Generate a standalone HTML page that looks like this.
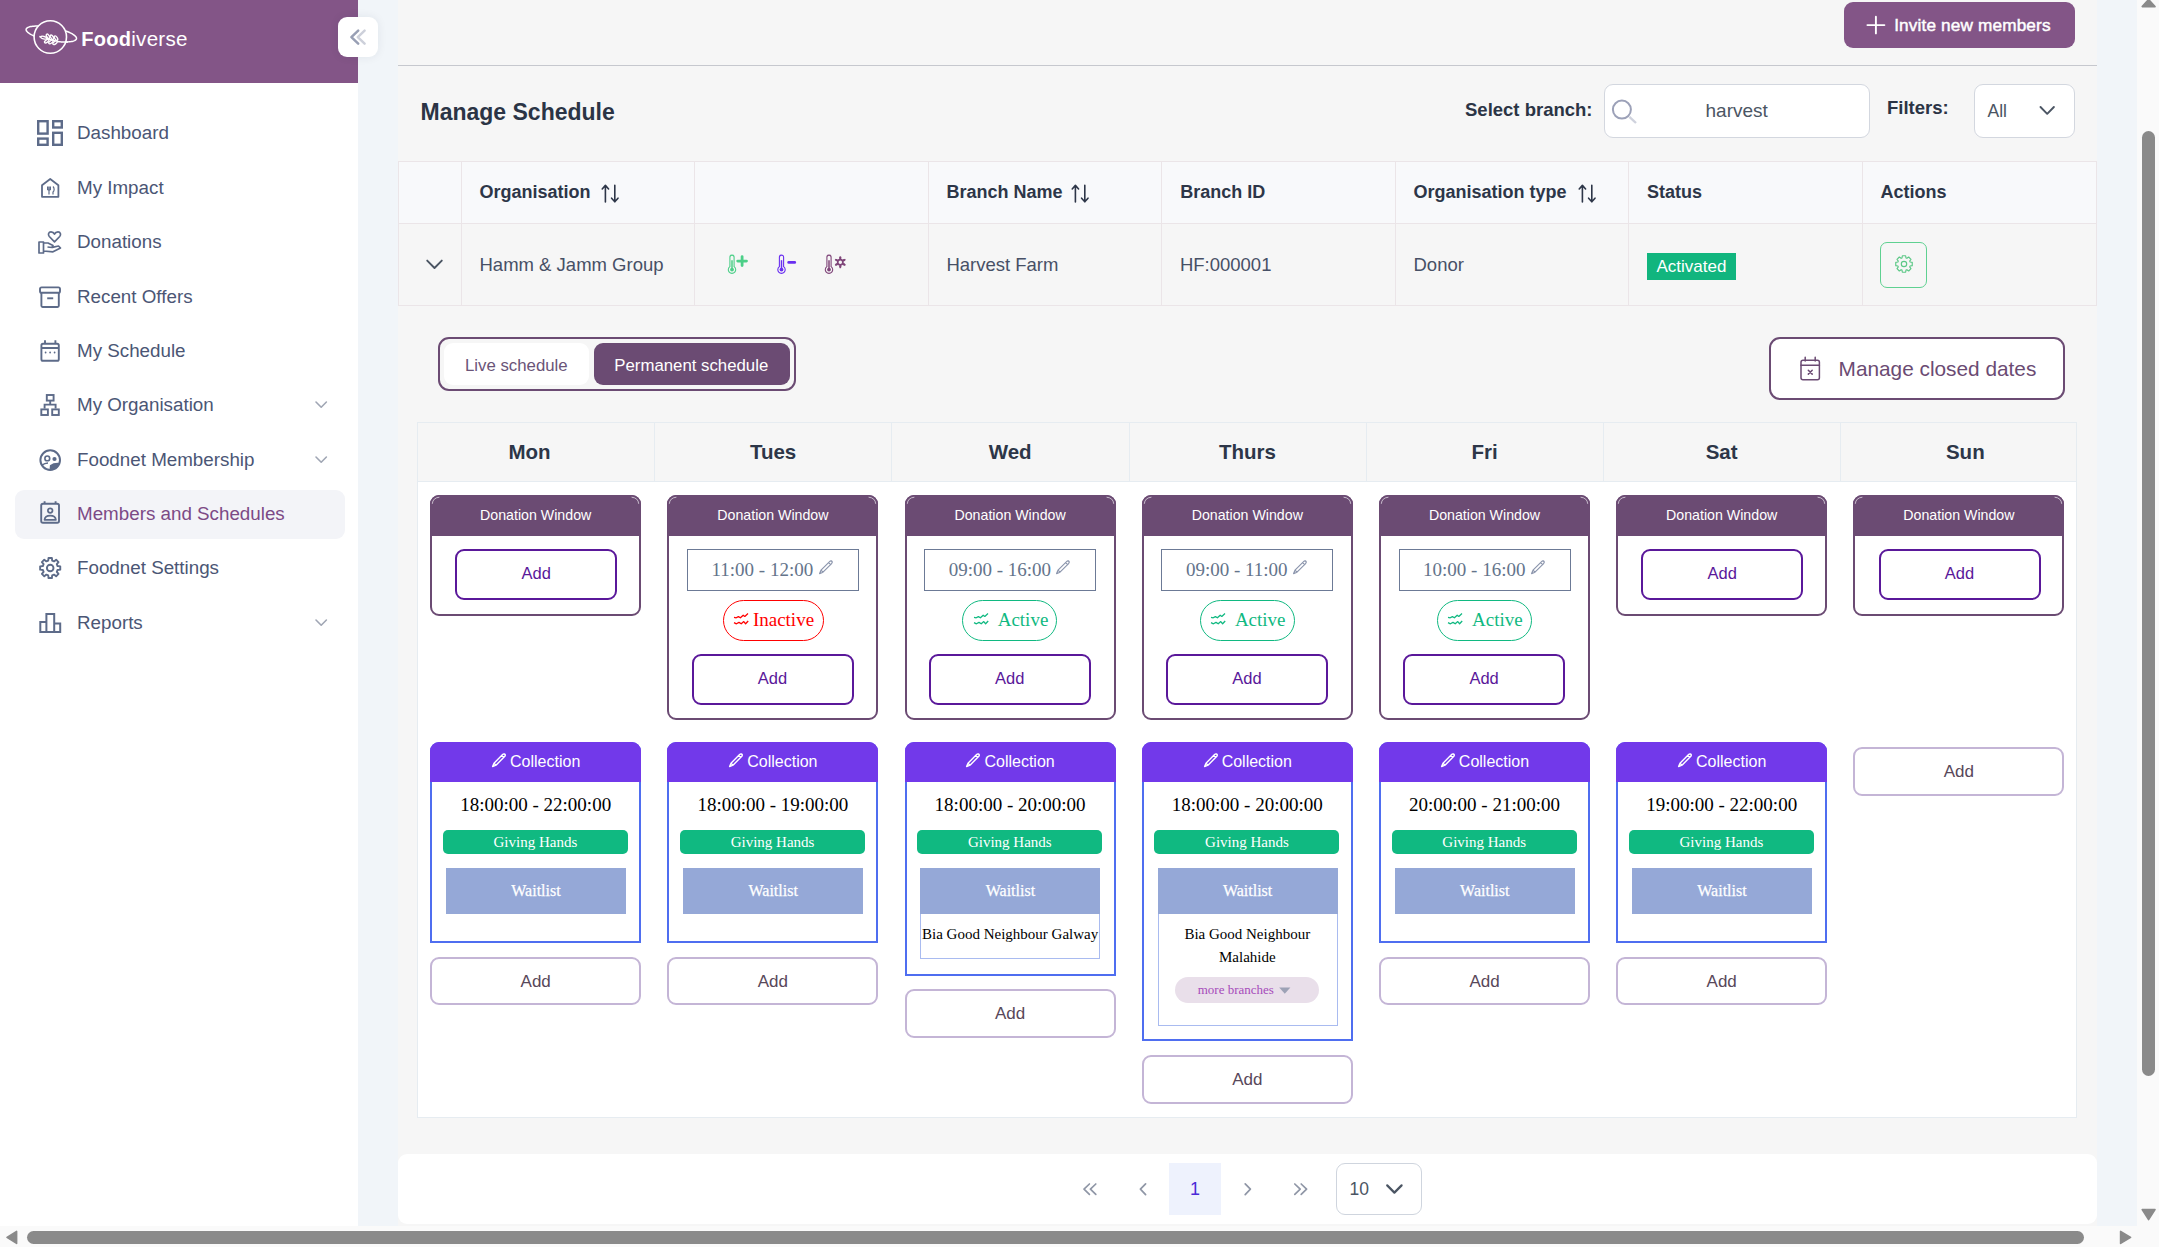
<!DOCTYPE html><html><head><meta charset="utf-8"><title>Members and Schedules</title><style>
*{box-sizing:border-box;margin:0;padding:0}
html,body{width:2159px;height:1247px;overflow:hidden;background:#f6f6f6;font-family:"Liberation Sans",sans-serif;position:relative}
.abs{position:absolute}
.nav{position:absolute;left:77px;font-size:18.8px;color:#4b5675;white-space:nowrap;line-height:22px}
.ic{position:absolute;overflow:visible}
.th{position:absolute;top:162px;height:61px;font-weight:bold;font-size:18px;color:#2d3648;line-height:61px;white-space:nowrap}
.td{position:absolute;top:224px;height:81px;font-size:18.5px;color:#475066;line-height:81px;white-space:nowrap}
.dh{position:absolute;top:423px;width:237px;height:58px;line-height:58px;text-align:center;font-weight:bold;font-size:20.5px;color:#2d3648}
.card{position:absolute;width:211px;border:2px solid #6b4b73;border-radius:9px;background:#fff}
.card .hd{position:absolute;left:-2px;top:-2px;width:211px;height:40.5px;background:#6b4b73;color:#fff;font-size:14.2px;text-align:center;line-height:40px;border-radius:9px 9px 0 0}
.addp{position:absolute;width:162px;height:51px;border:2.5px solid #5a189a;border-radius:9px;color:#5a189a;font-size:16.5px;text-align:center;line-height:45.5px;background:#fff}
.tbox{position:absolute;width:172px;height:42px;border:1px solid #6c7a96;background:#fff;font-family:"Liberation Serif",serif;font-size:19px;color:#64748b;line-height:40px;white-space:nowrap}
.pill{position:absolute;height:41px;border:1px solid;border-radius:21px;font-family:"Liberation Serif",serif;font-size:19px;line-height:37px;white-space:nowrap;background:#fff}
.coll{position:absolute;width:211px;background:#fff;border:2px solid #4f6ef0;border-radius:9px 9px 0 0}
.coll .hd{position:absolute;left:-2px;top:-2px;width:211px;height:40px;background:#7239ea;border-radius:9px 9px 0 0;color:#fff;font-size:16px;line-height:40px;text-align:center;white-space:nowrap}
.ctime{position:absolute;left:0;width:207px;top:49.6px;text-align:center;font-family:"Liberation Serif",serif;font-size:19px;line-height:22px;color:#000;white-space:nowrap}
.gh{position:absolute;left:10.7px;top:85.9px;width:185px;height:24px;background:#10b981;border-radius:5px;color:#fff;font-family:"Liberation Serif",serif;font-size:15px;line-height:24px;text-align:center}
.wl{position:absolute;left:13.8px;top:123.8px;width:180px;height:46px;background:#95a8d7;color:#fff;font-family:"Liberation Serif",serif;font-size:16px;-webkit-text-stroke:0.25px #fff;line-height:46px;text-align:center}
.wlist{position:absolute;left:13.8px;top:123.8px;width:180px;border:1px solid #a9bbf0;border-top:none;background:#fff}
.addg{position:absolute;width:211px;height:50px;border:2px solid #c4b5d6;border-radius:9px;background:#fff;color:#58485a;font-size:17px;text-align:center;line-height:46px}
</style></head><body>
<div class="abs" style="left:358px;top:0;width:40px;height:1226px;background:#f1f5f9"></div>
<div class="abs" style="left:2097px;top:0;width:40px;height:1226px;background:#f1f5f9"></div>
<div class="abs" style="left:0;top:0;width:358px;height:1226px;background:#fff"></div>
<div class="abs" style="left:0;top:0;width:358px;height:83px;background:#835587"></div>
<div class="abs" style="left:15px;top:490px;width:330px;height:49px;background:#f3f4f8;border-radius:9px"></div>
<svg class="abs" style="left:0;top:0" width="100" height="70" viewBox="0 0 100 70">
<path d="M76.47,38.67 L76.33,39.11 L76.06,39.52 L75.67,39.91 L75.16,40.27 L74.54,40.60 L73.81,40.90 L72.96,41.17 L72.01,41.40 L70.96,41.59 L69.81,41.75 L68.57,41.86 L67.25,41.94 L65.85,41.99 L64.38,41.99 L62.84,41.95 L61.25,41.88 L59.61,41.76 L57.93,41.61 L56.22,41.43 L54.49,41.20 L52.73,40.94 L50.98,40.65 L49.22,40.32 L47.47,39.97 L45.74,39.58 L44.04,39.17 L42.38,38.73 L40.76,38.27 L39.18,37.79 L37.67,37.29 L36.23,36.77 L34.86,36.24 L33.56,35.70 L32.36,35.15 L31.24,34.60 L30.23,34.04 L29.32,33.48 L28.51,32.93 L27.82,32.38 L27.24,31.84 L26.77,31.30 L26.43,30.79 L26.21,30.28 L26.11,29.80 L26.13,29.33 L26.27,28.89 L26.54,28.48 L26.93,28.09 L27.44,27.73 L28.06,27.40 L28.79,27.10 L29.64,26.83 L30.59,26.60 L31.64,26.41 L32.79,26.25 L34.03,26.14 L35.35,26.06 L36.75,26.01 L38.22,26.01 L39.76,26.05 L41.35,26.12 L42.99,26.24 L44.67,26.39 L46.38,26.57 L48.11,26.80 L49.87,27.06 L51.62,27.35 L53.38,27.68 L55.13,28.03 L56.86,28.42 L58.56,28.83 L60.22,29.27 L61.84,29.73 L63.42,30.21 L64.93,30.71 L66.37,31.23 L67.74,31.76 L69.04,32.30 L70.24,32.85 L71.36,33.40 L72.37,33.96 L73.28,34.52 L74.09,35.07 L74.78,35.62 L75.36,36.16 L75.83,36.70 L76.17,37.21 L76.39,37.72 L76.49,38.20 L76.47,38.67Z" fill="none" stroke="#fff" stroke-width="1.5"/>
<circle cx="50.3" cy="37" r="16.4" fill="#835587"/>
<circle cx="50.3" cy="37" r="16.2" fill="none" stroke="#fff" stroke-width="1.6"/>
<path d="M67.92,41.91 L67.25,41.94 L66.56,41.97 L65.85,41.99 L65.12,41.99 L64.38,41.99 L63.62,41.98 L62.84,41.95 L62.06,41.92 L61.25,41.88 L60.44,41.83 L59.61,41.76 L58.78,41.69 L57.93,41.61 L39.3,36.5" fill="none" stroke="#fff" stroke-width="1.5"/>
<ellipse cx="48.0" cy="36.3" rx="2.5" ry="1.25" transform="rotate(56 48.0 36.3)" fill="#835587" stroke="#fff" stroke-width="1.35"/><ellipse cx="52.0" cy="37.2" rx="2.5" ry="1.25" transform="rotate(56 52.0 37.2)" fill="#835587" stroke="#fff" stroke-width="1.35"/><ellipse cx="56.0" cy="38.1" rx="2.5" ry="1.25" transform="rotate(56 56.0 38.1)" fill="#835587" stroke="#fff" stroke-width="1.35"/><ellipse cx="46.7" cy="41.1" rx="2.5" ry="1.25" transform="rotate(-35 46.7 41.1)" fill="#835587" stroke="#fff" stroke-width="1.35"/><ellipse cx="50.9" cy="42.0" rx="2.5" ry="1.25" transform="rotate(-35 50.9 42.0)" fill="#835587" stroke="#fff" stroke-width="1.35"/><ellipse cx="55.0" cy="42.8" rx="2.5" ry="1.25" transform="rotate(-35 55.0 42.8)" fill="#835587" stroke="#fff" stroke-width="1.35"/><ellipse cx="43.7" cy="37.7" rx="3.0" ry="1.25" transform="rotate(14 43.7 37.7)" fill="#835587" stroke="#fff" stroke-width="1.35"/>
</svg>
<div class="abs" style="left:81.2px;top:29px;line-height:20px;font-size:20px;color:#fff;white-space:nowrap"><b style="letter-spacing:0.3px">Food</b><span style="font-size:20.6px;letter-spacing:0.25px">iverse</span></div>
<div class="abs" style="left:338px;top:17px;width:40px;height:40px;background:#fff;border-radius:9px;box-shadow:0 0 10px rgba(30,41,59,0.08)"></div>
<svg class="abs" style="left:330px;top:20px" width="50" height="40" viewBox="330 20 50 40"><path d="M358.2,30.6 L351.4,37.1 L358.2,43.6" fill="none" stroke="#989fb4" stroke-width="2.5" stroke-linecap="round" stroke-linejoin="round"/><path d="M364.6,30.6 L357.8,37.1 L364.6,43.6" fill="none" stroke="#cdd0da" stroke-width="2.5" stroke-linecap="round" stroke-linejoin="round"/></svg>
<div class="nav" style="top:121.5px;color:#4b5675">Dashboard</div>
<div class="nav" style="top:176.8px;color:#4b5675">My Impact</div>
<div class="nav" style="top:230.5px;color:#4b5675">Donations</div>
<div class="nav" style="top:285.8px;color:#4b5675">Recent Offers</div>
<div class="nav" style="top:339.5px;color:#4b5675">My Schedule</div>
<div class="nav" style="top:393.8px;color:#4b5675">My Organisation</div>
<svg class="abs" style="left:310px;top:397.3px" width="22" height="16" viewBox="0 0 22 16"><path d="M6,5 L11.2,10.2 L16.4,5" fill="none" stroke="#a0a6b4" stroke-width="1.6" stroke-linecap="round" stroke-linejoin="round"/></svg>
<div class="nav" style="top:448.5px;color:#4b5675">Foodnet Membership</div>
<svg class="abs" style="left:310px;top:452.0px" width="22" height="16" viewBox="0 0 22 16"><path d="M6,5 L11.2,10.2 L16.4,5" fill="none" stroke="#a0a6b4" stroke-width="1.6" stroke-linecap="round" stroke-linejoin="round"/></svg>
<div class="nav" style="top:502.5px;color:#7c4a86">Members and Schedules</div>
<div class="nav" style="top:556.5px;color:#4b5675">Foodnet Settings</div>
<div class="nav" style="top:611.5px;color:#4b5675">Reports</div>
<svg class="abs" style="left:310px;top:615.0px" width="22" height="16" viewBox="0 0 22 16"><path d="M6,5 L11.2,10.2 L16.4,5" fill="none" stroke="#a0a6b4" stroke-width="1.6" stroke-linecap="round" stroke-linejoin="round"/></svg>
<svg class="abs" style="left:0;top:0" width="358" height="660" viewBox="0 0 358 660" fill="none" stroke="#5d6b89" stroke-width="2.4">
<rect x="38.2" y="121.2" width="9.4" height="12.4"/><rect x="53.2" y="121.2" width="8.6" height="6.3"/>
<rect x="38.2" y="138.6" width="9.4" height="6.2"/><rect x="53.2" y="132.8" width="8.6" height="12"/>
<path d="M42,196.8 L42,185.2 L50.2,179 L58.4,185.2 L58.4,196.8 Z" stroke-width="1.8" stroke-linejoin="round"/>
<path d="M47.6,186.5 V190 M49,186.5 V194.5 M50.4,186.5 V190 M47.6,190 H50.4 M53,186.5 C54.5,188 54.5,191 53,192 V194.5" stroke-width="1.2"/>
<path d="M39,242 H43.5 V253 H39 Z M43.5,243 H48 L53,245.5 L52,247.5 L47.5,247 M52.5,247.3 L58.5,246 L60.5,248 L53,251.8 L43.5,251" stroke-width="1.7" stroke-linejoin="round"/>
<path d="M54.5,241.8 L49.3,236.5 C47.6,234.6 48.6,231.8 51,231.8 C52.6,231.8 54,233 54.5,234 C55,233 56.4,231.8 58,231.8 C60.4,231.8 61.4,234.6 59.7,236.5 Z" stroke-width="1.7" stroke-linejoin="round"/>
<rect x="40" y="287.4" width="20" height="5.4" rx="1.6" stroke-width="1.9"/><path d="M41.4,293 V305.8 Q41.4,307 42.6,307 H57.6 Q58.8,307 58.8,305.8 V293" stroke-width="1.9"/><path d="M47.2,298.3 H53.2" stroke-width="1.9"/>
<rect x="41.4" y="343.8" width="17.4" height="17" rx="1.6" stroke-width="1.9"/><path d="M41.4,348 H58.8 M45,340.2 V344 M55.4,340.2 V344" stroke-width="1.9"/>
<circle cx="45.6" cy="352.5" r="0.9" fill="#5d6b89" stroke="none"/><circle cx="50.1" cy="352.5" r="0.9" fill="#5d6b89" stroke="none"/><circle cx="54.6" cy="352.5" r="0.9" fill="#5d6b89" stroke="none"/>
<rect x="46.8" y="395" width="6.8" height="5.6" stroke-width="1.9"/><path d="M50.2,400.6 V404.6 M44.6,408.5 V404.6 H55.6 V408.5" stroke-width="1.9"/>
<rect x="41.3" y="409.4" width="6.6" height="5.6" stroke-width="1.9"/><rect x="52.2" y="409.4" width="6.6" height="5.6" stroke-width="1.9"/>
<circle cx="50.2" cy="460.1" r="9.8" stroke-width="2"/><circle cx="47.3" cy="458.4" r="2.4" stroke-width="1.6"/><circle cx="54.5" cy="459" r="2.1" fill="#5d6b89" stroke="none"/>
<path d="M49.6,469.8 L49.9,465.2 Q53.5,462.4 59.9,462.9 A9.8,9.8 0 0 1 49.6,469.8 Z" fill="#5d6b89" stroke="none"/><path d="M42.2,465 Q44.5,463.2 48,463" stroke-width="1.5"/>
<rect x="41.2" y="503.8" width="17.8" height="19" rx="1.8" stroke-width="1.9"/><path d="M44.6,501.2 V504 M55.6,501.2 V504" stroke-width="1.9"/>
<circle cx="50.2" cy="510.6" r="2.3" stroke-width="1.7"/><path d="M44.5,519.8 Q45,515.6 50.2,515.6 Q55.4,515.6 55.9,519.8 Z" stroke-width="1.7" stroke-linejoin="round"/>
<path d="M40.3,622 H46.4 V632 H40.3 Z M46.4,614 H54.2 V632 H46.4 Z M54.2,623.4 H60.2 V632 H54.2 Z" stroke-width="2" stroke-linejoin="miter"/>
</svg>
<svg class="abs" style="left:0;top:0" width="358" height="660" viewBox="0 0 358 660"><path d="M57.54,566.02 L60.26,566.33 L60.26,569.67 L57.54,569.98 L56.79,571.79 L58.50,573.93 L56.13,576.30 L53.99,574.59 L52.18,575.34 L51.87,578.06 L48.53,578.06 L48.22,575.34 L46.41,574.59 L44.27,576.30 L41.90,573.93 L43.61,571.79 L42.86,569.98 L40.14,569.67 L40.14,566.33 L42.86,566.02 L43.61,564.21 L41.90,562.07 L44.27,559.70 L46.41,561.41 L48.22,560.66 L48.53,557.94 L51.87,557.94 L52.18,560.66 L53.99,561.41 L56.13,559.70 L58.50,562.07 L56.79,564.21Z" fill="none" stroke="#5d6b89" stroke-width="1.9" stroke-linejoin="round"/><circle cx="50.2" cy="568" r="3.3" fill="none" stroke="#5d6b89" stroke-width="1.9"/></svg>
<div class="abs" style="left:1844px;top:2px;width:231px;height:46px;background:#835587;border-radius:9px"></div>
<svg class="abs" style="left:1860px;top:10px" width="32" height="32" viewBox="1860 10 32 32"><path d="M1875.9,16.8 V33.4 M1867.4,25.1 H1884.4" stroke="#fff" stroke-width="1.9" stroke-linecap="round"/></svg>
<div class="abs" style="left:1894.2px;top:14.1px;font-size:17.2px;line-height:22px;letter-spacing:0.15px;color:#fff;-webkit-text-stroke:0.45px #fff;white-space:nowrap">Invite new members</div>
<div class="abs" style="left:398px;top:65px;width:1699px;height:1px;background:#c6c8ce"></div>
<div class="abs" style="left:420.5px;top:97.6px;font-size:23px;line-height:28px;font-weight:bold;color:#2b3445;white-space:nowrap">Manage Schedule</div>
<div class="abs" style="left:1465px;top:99.2px;font-size:18.5px;line-height:22px;font-weight:bold;color:#2b3445;white-space:nowrap">Select branch:</div>
<div class="abs" style="left:1604px;top:84px;width:266px;height:54px;background:#fff;border:1px solid #d3d7df;border-radius:9px"></div>
<svg class="abs" style="left:1605px;top:90px" width="40" height="40" viewBox="1605 90 40 40"><circle cx="1621.9" cy="109.6" r="9" fill="none" stroke="#9ca1b8" stroke-width="2"/><path d="M1629.4,116.8 L1636,123" stroke="#cfd2dd" stroke-width="2.4"/></svg>
<div class="abs" style="left:1705.5px;top:99.7px;font-size:19px;line-height:22px;color:#4b5563;white-space:nowrap">harvest</div>
<div class="abs" style="left:1887px;top:96.9px;font-size:18.5px;line-height:22px;font-weight:bold;color:#2b3445;white-space:nowrap">Filters:</div>
<div class="abs" style="left:1974px;top:84px;width:101px;height:54px;background:#fff;border:1px solid #d3d7df;border-radius:9px"></div>
<div class="abs" style="left:1987.5px;top:100.2px;font-size:17.5px;line-height:22px;color:#4b5563;white-space:nowrap">All</div>
<svg class="abs" style="left:2035px;top:100px" width="25" height="22" viewBox="2035 100 25 22"><path d="M2040.5,107 L2047.2,113.8 L2053.9,107" fill="none" stroke="#4b5563" stroke-width="1.9" stroke-linecap="round" stroke-linejoin="round"/></svg>
<div class="abs" style="left:398px;top:161px;width:1699px;height:145px;background:#f6f6f6;border:1px solid #ebe5e8"></div>
<div class="abs" style="left:399px;top:162px;width:1697px;height:61px;background:#f8f9fb"></div>
<div class="abs" style="left:399px;top:223px;width:1697px;height:1px;background:#ebe5e8"></div>
<div class="abs" style="left:461px;top:162px;width:1px;height:143px;background:#ebe5e8"></div>
<div class="abs" style="left:694px;top:162px;width:1px;height:143px;background:#ebe5e8"></div>
<div class="abs" style="left:928px;top:162px;width:1px;height:143px;background:#ebe5e8"></div>
<div class="abs" style="left:1161px;top:162px;width:1px;height:143px;background:#ebe5e8"></div>
<div class="abs" style="left:1395px;top:162px;width:1px;height:143px;background:#ebe5e8"></div>
<div class="abs" style="left:1628px;top:162px;width:1px;height:143px;background:#ebe5e8"></div>
<div class="abs" style="left:1862px;top:162px;width:1px;height:143px;background:#ebe5e8"></div>
<div class="th" style="left:479.6px">Organisation</div>
<svg class="abs" style="left:597.6px;top:180px" width="26" height="26" viewBox="597.6 180 26 26"><path d="M605.0,202 V185.6 M601.8000000000001,189 L605.0,185.4 L608.2,189" fill="none" stroke="#2d3648" stroke-width="1.6" stroke-linecap="round" stroke-linejoin="round"/><path d="M614.4,185.2 V201.6 M611.2,198.2 L614.4,201.8 L617.6,198.2" fill="none" stroke="#2d3648" stroke-width="1.6" stroke-linecap="round" stroke-linejoin="round"/></svg>
<div class="th" style="left:946.4px">Branch Name</div>
<svg class="abs" style="left:1068px;top:180px" width="26" height="26" viewBox="1068 180 26 26"><path d="M1075.4,202 V185.6 M1072.2,189 L1075.4,185.4 L1078.6,189" fill="none" stroke="#2d3648" stroke-width="1.6" stroke-linecap="round" stroke-linejoin="round"/><path d="M1084.8,185.2 V201.6 M1081.6,198.2 L1084.8,201.8 L1088,198.2" fill="none" stroke="#2d3648" stroke-width="1.6" stroke-linecap="round" stroke-linejoin="round"/></svg>
<div class="th" style="left:1180.2px">Branch ID</div>
<div class="th" style="left:1413.5px">Organisation type</div>
<svg class="abs" style="left:1574.5px;top:180px" width="26" height="26" viewBox="1574.5 180 26 26"><path d="M1581.9,202 V185.6 M1578.7,189 L1581.9,185.4 L1585.1,189" fill="none" stroke="#2d3648" stroke-width="1.6" stroke-linecap="round" stroke-linejoin="round"/><path d="M1591.3,185.2 V201.6 M1588.1,198.2 L1591.3,201.8 L1594.5,198.2" fill="none" stroke="#2d3648" stroke-width="1.6" stroke-linecap="round" stroke-linejoin="round"/></svg>
<div class="th" style="left:1646.9px">Status</div>
<div class="th" style="left:1880.4px">Actions</div>
<div class="td" style="left:479.5px">Hamm &amp; Jamm Group</div>
<div class="td" style="left:946.4px">Harvest Farm</div>
<div class="td" style="left:1179.9px">HF:000001</div>
<div class="td" style="left:1413.5px">Donor</div>
<svg class="abs" style="left:420px;top:254px" width="30" height="22" viewBox="420 254 30 22"><path d="M427.2,260.6 L434.5,268 L441.8,260.6" fill="none" stroke="#4b5563" stroke-width="1.9" stroke-linecap="round" stroke-linejoin="round"/></svg>
<svg class="abs" style="left:720px;top:248px" width="135" height="32" viewBox="720 248 135 32"><path d="M729.9,266.59999999999997 V257.2 a2.1,2.1 0 0 1 4.2,0 V266.59999999999997 a3.7,3.7 0 1 1 -4.2,0 Z" fill="none" stroke="#4ccf88" stroke-width="1.1"/><path d="M732.0,260.2 V268.7" stroke="#4ccf88" stroke-width="1.5"/><circle cx="732.0" cy="269.59999999999997" r="1.9" fill="#4ccf88"/><path d="M742.1,256.6 V265.6 M737.7,261.1 H746.5" stroke="#4ccf88" stroke-width="2.8" stroke-linecap="round"/><path d="M779.4,266.59999999999997 V257.2 a2.1,2.1 0 0 1 4.2,0 V266.59999999999997 a3.7,3.7 0 1 1 -4.2,0 Z" fill="none" stroke="#6a2ff0" stroke-width="1.1"/><path d="M781.5,260.2 V268.7" stroke="#6a2ff0" stroke-width="1.5"/><circle cx="781.5" cy="269.59999999999997" r="1.9" fill="#6a2ff0"/><path d="M788.6,262.4 H794.8" stroke="#6a2ff0" stroke-width="2.6" stroke-linecap="round"/><path d="M826.9,266.59999999999997 V257.2 a2.1,2.1 0 0 1 4.2,0 V266.59999999999997 a3.7,3.7 0 1 1 -4.2,0 Z" fill="none" stroke="#7f4579" stroke-width="1.1"/><path d="M829.0,260.2 V268.7" stroke="#7f4579" stroke-width="1.5"/><circle cx="829.0" cy="269.59999999999997" r="1.9" fill="#7f4579"/><path d="M840.30,256.40 L840.30,268.20" stroke="#7f4579" stroke-width="1.6"/><path d="M845.41,259.35 L835.19,265.25" stroke="#7f4579" stroke-width="1.6"/><path d="M845.41,265.25 L835.19,259.35" stroke="#7f4579" stroke-width="1.6"/><circle cx="840.3" cy="262.3" r="2.6" fill="#f6f6f6" stroke="#7f4579" stroke-width="1.7"/><circle cx="840.30" cy="266.60" r="1.15" fill="#7f4579"/><circle cx="836.58" cy="264.45" r="1.15" fill="#7f4579"/><circle cx="836.58" cy="260.15" r="1.15" fill="#7f4579"/><circle cx="840.30" cy="258.00" r="1.15" fill="#7f4579"/><circle cx="844.02" cy="260.15" r="1.15" fill="#7f4579"/><circle cx="844.02" cy="264.45" r="1.15" fill="#7f4579"/></svg>
<div class="abs" style="left:1647px;top:253px;width:89px;height:27px;background:#11b57e;color:#fff;font-size:17px;line-height:27px;text-align:center">Activated</div>
<div class="abs" style="left:1880px;top:242px;width:47px;height:46px;border:1.3px solid #5fd191;border-radius:7px"></div>
<svg class="abs" style="left:1890px;top:250px" width="28" height="28" viewBox="1890 250 28 28"><path d="M1910.09,262.02 L1912.24,262.36 L1912.24,265.64 L1910.09,265.98 L1909.70,266.91 L1910.98,268.67 L1908.67,270.98 L1906.91,269.70 L1905.98,270.09 L1905.64,272.24 L1902.36,272.24 L1902.02,270.09 L1901.09,269.70 L1899.33,270.98 L1897.02,268.67 L1898.30,266.91 L1897.91,265.98 L1895.76,265.64 L1895.76,262.36 L1897.91,262.02 L1898.30,261.09 L1897.02,259.33 L1899.33,257.02 L1901.09,258.30 L1902.02,257.91 L1902.36,255.76 L1905.64,255.76 L1905.98,257.91 L1906.91,258.30 L1908.67,257.02 L1910.98,259.33 L1909.70,261.09Z" fill="none" stroke="#5cc886" stroke-width="1.15" stroke-linejoin="round"/><circle cx="1904" cy="264" r="2.7" fill="none" stroke="#5cc886" stroke-width="1.15"/></svg>
<div class="abs" style="left:438px;top:337px;width:358px;height:54px;border:2px solid #6b4b73;border-radius:11px;background:#f6f6f6"></div>
<div class="abs" style="left:444px;top:343px;width:145px;height:42px;background:#fff;border-radius:9px"></div>
<div class="abs" style="left:594px;top:343px;width:196px;height:42px;background:#6b4b73;border-radius:9px"></div>
<div class="abs" style="left:465px;top:356.1px;font-size:16.8px;line-height:20px;color:#6a5478;white-space:nowrap">Live schedule</div>
<div class="abs" style="left:614.3px;top:356.1px;font-size:16.8px;line-height:20px;color:#fff;white-space:nowrap">Permanent schedule</div>
<div class="abs" style="left:1769px;top:337px;width:296px;height:63px;border:2px solid #6b4b73;border-radius:11px;background:#fff"></div>
<svg class="abs" style="left:1795px;top:352px" width="30" height="32" viewBox="1795 352 30 32"><rect x="1801" y="360.3" width="18.4" height="19.4" rx="2" fill="none" stroke="#6b4b73" stroke-width="1.5"/><path d="M1801,365.2 H1819.4 M1805.2,357.2 V361 M1815.2,357.2 V361 M1808.3,370.2 L1812.2,374.1 M1812.2,370.2 L1808.3,374.1" stroke="#6b4b73" stroke-width="1.5" stroke-linecap="round"/></svg>
<div class="abs" style="left:1838.6px;top:356.5px;font-size:20.8px;line-height:24px;color:#6b4b73;white-space:nowrap">Manage closed dates</div>
<div class="abs" style="left:417px;top:422px;width:1660px;height:696px;background:#fff;border:1px solid #e6ecf1;border-top:none"></div>
<div class="abs" style="left:417px;top:422px;width:1660px;height:60px;background:#f6f6f6;border:1px solid #e6ecf1"></div>
<div class="abs" style="left:654px;top:423px;width:1px;height:58px;background:#e6ecf1"></div>
<div class="abs" style="left:891px;top:423px;width:1px;height:58px;background:#e6ecf1"></div>
<div class="abs" style="left:1129px;top:423px;width:1px;height:58px;background:#e6ecf1"></div>
<div class="abs" style="left:1366px;top:423px;width:1px;height:58px;background:#e6ecf1"></div>
<div class="abs" style="left:1603px;top:423px;width:1px;height:58px;background:#e6ecf1"></div>
<div class="abs" style="left:1840px;top:423px;width:1px;height:58px;background:#e6ecf1"></div>
<div class="dh" style="left:411.0px">Mon</div>
<div class="dh" style="left:654.6px">Tues</div>
<div class="dh" style="left:891.7px">Wed</div>
<div class="dh" style="left:1129.0px">Thurs</div>
<div class="dh" style="left:1366.1px">Fri</div>
<div class="dh" style="left:1603.1px">Sat</div>
<div class="dh" style="left:1846.8px">Sun</div>
<div class="card" style="left:430.2px;top:495.2px;height:120.5px"><div class="hd">Donation Window</div></div>
<svg class="abs" style="left:430.2px;top:495.2px;overflow:visible" width="211" height="20"><path d="M2.3,8.8 Q2.8,2.8 9.4,2.2" fill="none" stroke="#d2c8d6" stroke-width="0.9"/><path d="M208.7,8.8 Q208.2,2.8 201.6,2.2" fill="none" stroke="#d2c8d6" stroke-width="0.9"/></svg>
<div class="addp" style="left:455.3px;top:549.4px">Add</div>
<div class="coll" style="left:430.2px;top:742.1px;height:200.7px"><div class="hd"><span style="position:relative;left:9.5px">Collection</span></div><div class="ctime">18:00:00 - 22:00:00</div><div class="gh">Giving Hands</div>
<div class="wl">Waitlist</div></div>
<svg class="abs" style="left:490.0px;top:751.2px;overflow:visible" width="18.0" height="18.0" viewBox="-2 -2 18 18"><path d="M10.6,1.6 Q11.9,0.3 13.2,1.6 L12.6,1 Q13.9,2.3 12.6,3.6 L4,12.2 L0.6,13.6 L2,10.2 Z M9.6,2.6 L11.6,4.6 M2,10.2 L4,12.2" fill="none" stroke="#fff" stroke-width="1.4" stroke-linejoin="round" transform="scale(1.0)"/></svg>
<div class="addg" style="left:430.2px;top:956.6px;height:48.8px">Add</div>
<div class="card" style="left:667.4px;top:495.2px;height:225px"><div class="hd">Donation Window</div></div>
<svg class="abs" style="left:667.4px;top:495.2px;overflow:visible" width="211" height="20"><path d="M2.3,8.8 Q2.8,2.8 9.4,2.2" fill="none" stroke="#d2c8d6" stroke-width="0.9"/><path d="M208.7,8.8 Q208.2,2.8 201.6,2.2" fill="none" stroke="#d2c8d6" stroke-width="0.9"/></svg>
<div class="tbox" style="left:686.9px;top:549.2px"><span style="position:absolute;left:23.6px;top:0">11:00 - 12:00</span></div>
<svg class="abs" style="left:816.9px;top:558.2px;overflow:visible" width="18.0" height="18.0" viewBox="-2 -2 18 18"><path d="M10.6,1.6 Q11.9,0.3 13.2,1.6 L12.6,1 Q13.9,2.3 12.6,3.6 L4,12.2 L0.6,13.6 L2,10.2 Z M9.6,2.6 L11.6,4.6 M2,10.2 L4,12.2" fill="none" stroke="#8c96ad" stroke-width="1.2" stroke-linejoin="round" transform="scale(1.0)"/></svg>
<div class="pill" style="left:723.2px;top:599.9px;width:100.6px;border-color:#ff0000;color:#ff0000"><span style="position:absolute;left:28.7px;top:0">Inactive</span></div>
<div class="abs" style="left:733.6px;top:613.3px"><svg class="abs" style="left:0;top:0;overflow:visible" width="1" height="1"><path d="M0,4.4 L2.2,4.8 L4.4,3.6 L6.4,4.8 L9.2,2.2 L10.8,3.4 L14,0.6 M0,9.6 L2.4,10.8 L5,9.4 L7.2,10.8 L9.8,8.6 L11.6,10.8 L14.2,8" fill="none" stroke="#ff0000" stroke-width="1.3" stroke-linejoin="round"/></svg></div>
<div class="addp" style="left:691.5px;top:654.4px">Add</div>
<div class="coll" style="left:667.4px;top:742.1px;height:200.7px"><div class="hd"><span style="position:relative;left:9.5px">Collection</span></div><div class="ctime">18:00:00 - 19:00:00</div><div class="gh">Giving Hands</div>
<div class="wl">Waitlist</div></div>
<svg class="abs" style="left:727.1999999999999px;top:751.2px;overflow:visible" width="18.0" height="18.0" viewBox="-2 -2 18 18"><path d="M10.6,1.6 Q11.9,0.3 13.2,1.6 L12.6,1 Q13.9,2.3 12.6,3.6 L4,12.2 L0.6,13.6 L2,10.2 Z M9.6,2.6 L11.6,4.6 M2,10.2 L4,12.2" fill="none" stroke="#fff" stroke-width="1.4" stroke-linejoin="round" transform="scale(1.0)"/></svg>
<div class="addg" style="left:667.4px;top:956.6px;height:48.8px">Add</div>
<div class="card" style="left:904.6px;top:495.2px;height:225px"><div class="hd">Donation Window</div></div>
<svg class="abs" style="left:904.6px;top:495.2px;overflow:visible" width="211" height="20"><path d="M2.3,8.8 Q2.8,2.8 9.4,2.2" fill="none" stroke="#d2c8d6" stroke-width="0.9"/><path d="M208.7,8.8 Q208.2,2.8 201.6,2.2" fill="none" stroke="#d2c8d6" stroke-width="0.9"/></svg>
<div class="tbox" style="left:924.1px;top:549.2px"><span style="position:absolute;left:23.6px;top:0">09:00 - 16:00</span></div>
<svg class="abs" style="left:1054.1px;top:558.2px;overflow:visible" width="18.0" height="18.0" viewBox="-2 -2 18 18"><path d="M10.6,1.6 Q11.9,0.3 13.2,1.6 L12.6,1 Q13.9,2.3 12.6,3.6 L4,12.2 L0.6,13.6 L2,10.2 Z M9.6,2.6 L11.6,4.6 M2,10.2 L4,12.2" fill="none" stroke="#8c96ad" stroke-width="1.2" stroke-linejoin="round" transform="scale(1.0)"/></svg>
<div class="pill" style="left:962.4px;top:599.9px;width:95px;border-color:#10b981;color:#10b981"><span style="position:absolute;left:34.3px;top:0">Active</span></div>
<div class="abs" style="left:973.5px;top:613.3px"><svg class="abs" style="left:0;top:0;overflow:visible" width="1" height="1"><path d="M0,4.4 L2.2,4.8 L4.4,3.6 L6.4,4.8 L9.2,2.2 L10.8,3.4 L14,0.6 M0,9.6 L2.4,10.8 L5,9.4 L7.2,10.8 L9.8,8.6 L11.6,10.8 L14.2,8" fill="none" stroke="#10b981" stroke-width="1.3" stroke-linejoin="round"/></svg></div>
<div class="addp" style="left:928.7px;top:654.4px">Add</div>
<div class="coll" style="left:904.6px;top:742.1px;height:233.5px"><div class="hd"><span style="position:relative;left:9.5px">Collection</span></div><div class="ctime">18:00:00 - 20:00:00</div><div class="gh">Giving Hands</div>
<div class="wlist" style="height:91.3px"></div><div class="abs" style="left:-2px;top:178.5px;width:211px;text-align:center;font-family:'Liberation Serif',serif;font-size:15px;line-height:23px;color:#000;white-space:nowrap">Bia Good Neighbour Galway</div>
<div class="wl">Waitlist</div></div>
<svg class="abs" style="left:964.3999999999999px;top:751.2px;overflow:visible" width="18.0" height="18.0" viewBox="-2 -2 18 18"><path d="M10.6,1.6 Q11.9,0.3 13.2,1.6 L12.6,1 Q13.9,2.3 12.6,3.6 L4,12.2 L0.6,13.6 L2,10.2 Z M9.6,2.6 L11.6,4.6 M2,10.2 L4,12.2" fill="none" stroke="#fff" stroke-width="1.4" stroke-linejoin="round" transform="scale(1.0)"/></svg>
<div class="addg" style="left:904.6px;top:989.4px;height:48.8px">Add</div>
<div class="card" style="left:1141.8px;top:495.2px;height:225px"><div class="hd">Donation Window</div></div>
<svg class="abs" style="left:1141.8px;top:495.2px;overflow:visible" width="211" height="20"><path d="M2.3,8.8 Q2.8,2.8 9.4,2.2" fill="none" stroke="#d2c8d6" stroke-width="0.9"/><path d="M208.7,8.8 Q208.2,2.8 201.6,2.2" fill="none" stroke="#d2c8d6" stroke-width="0.9"/></svg>
<div class="tbox" style="left:1161.3px;top:549.2px"><span style="position:absolute;left:23.6px;top:0">09:00 - 11:00</span></div>
<svg class="abs" style="left:1291.3px;top:558.2px;overflow:visible" width="18.0" height="18.0" viewBox="-2 -2 18 18"><path d="M10.6,1.6 Q11.9,0.3 13.2,1.6 L12.6,1 Q13.9,2.3 12.6,3.6 L4,12.2 L0.6,13.6 L2,10.2 Z M9.6,2.6 L11.6,4.6 M2,10.2 L4,12.2" fill="none" stroke="#8c96ad" stroke-width="1.2" stroke-linejoin="round" transform="scale(1.0)"/></svg>
<div class="pill" style="left:1199.6px;top:599.9px;width:95px;border-color:#10b981;color:#10b981"><span style="position:absolute;left:34.3px;top:0">Active</span></div>
<div class="abs" style="left:1210.7px;top:613.3px"><svg class="abs" style="left:0;top:0;overflow:visible" width="1" height="1"><path d="M0,4.4 L2.2,4.8 L4.4,3.6 L6.4,4.8 L9.2,2.2 L10.8,3.4 L14,0.6 M0,9.6 L2.4,10.8 L5,9.4 L7.2,10.8 L9.8,8.6 L11.6,10.8 L14.2,8" fill="none" stroke="#10b981" stroke-width="1.3" stroke-linejoin="round"/></svg></div>
<div class="addp" style="left:1165.9px;top:654.4px">Add</div>
<div class="coll" style="left:1141.8px;top:742.1px;height:298.9px"><div class="hd"><span style="position:relative;left:9.5px">Collection</span></div><div class="ctime">18:00:00 - 20:00:00</div><div class="gh">Giving Hands</div>
<div class="wlist" style="height:157.7px"></div><div class="abs" style="left:0;top:179.4px;width:207px;text-align:center;font-family:'Liberation Serif',serif;font-size:15px;line-height:22.5px;color:#000">Bia Good Neighbour<br>Malahide</div>
<div class="abs" style="left:31.5px;top:233.2px;width:143.3px;height:25.6px;background:#e9dfea;border-radius:13px;font-family:'Liberation Serif',serif;font-size:13px;line-height:25px;color:#a64bba;white-space:nowrap"><span style="position:absolute;left:22.4px">more branches</span><svg class="abs" style="left:103.2px;top:9.2px" width="14" height="10" viewBox="0 0 14 10"><path d="M1.2,1.4 H12.4 L6.8,7.8 Z" fill="#9da2b6"/></svg></div>
<div class="wl">Waitlist</div></div>
<svg class="abs" style="left:1201.6px;top:751.2px;overflow:visible" width="18.0" height="18.0" viewBox="-2 -2 18 18"><path d="M10.6,1.6 Q11.9,0.3 13.2,1.6 L12.6,1 Q13.9,2.3 12.6,3.6 L4,12.2 L0.6,13.6 L2,10.2 Z M9.6,2.6 L11.6,4.6 M2,10.2 L4,12.2" fill="none" stroke="#fff" stroke-width="1.4" stroke-linejoin="round" transform="scale(1.0)"/></svg>
<div class="addg" style="left:1141.8px;top:1054.8px;height:48.8px">Add</div>
<div class="card" style="left:1379.0px;top:495.2px;height:225px"><div class="hd">Donation Window</div></div>
<svg class="abs" style="left:1379.0px;top:495.2px;overflow:visible" width="211" height="20"><path d="M2.3,8.8 Q2.8,2.8 9.4,2.2" fill="none" stroke="#d2c8d6" stroke-width="0.9"/><path d="M208.7,8.8 Q208.2,2.8 201.6,2.2" fill="none" stroke="#d2c8d6" stroke-width="0.9"/></svg>
<div class="tbox" style="left:1398.5px;top:549.2px"><span style="position:absolute;left:23.6px;top:0">10:00 - 16:00</span></div>
<svg class="abs" style="left:1528.5px;top:558.2px;overflow:visible" width="18.0" height="18.0" viewBox="-2 -2 18 18"><path d="M10.6,1.6 Q11.9,0.3 13.2,1.6 L12.6,1 Q13.9,2.3 12.6,3.6 L4,12.2 L0.6,13.6 L2,10.2 Z M9.6,2.6 L11.6,4.6 M2,10.2 L4,12.2" fill="none" stroke="#8c96ad" stroke-width="1.2" stroke-linejoin="round" transform="scale(1.0)"/></svg>
<div class="pill" style="left:1436.8px;top:599.9px;width:95px;border-color:#10b981;color:#10b981"><span style="position:absolute;left:34.3px;top:0">Active</span></div>
<div class="abs" style="left:1447.9px;top:613.3px"><svg class="abs" style="left:0;top:0;overflow:visible" width="1" height="1"><path d="M0,4.4 L2.2,4.8 L4.4,3.6 L6.4,4.8 L9.2,2.2 L10.8,3.4 L14,0.6 M0,9.6 L2.4,10.8 L5,9.4 L7.2,10.8 L9.8,8.6 L11.6,10.8 L14.2,8" fill="none" stroke="#10b981" stroke-width="1.3" stroke-linejoin="round"/></svg></div>
<div class="addp" style="left:1403.1px;top:654.4px">Add</div>
<div class="coll" style="left:1379.0px;top:742.1px;height:200.7px"><div class="hd"><span style="position:relative;left:9.5px">Collection</span></div><div class="ctime">20:00:00 - 21:00:00</div><div class="gh">Giving Hands</div>
<div class="wl">Waitlist</div></div>
<svg class="abs" style="left:1438.8px;top:751.2px;overflow:visible" width="18.0" height="18.0" viewBox="-2 -2 18 18"><path d="M10.6,1.6 Q11.9,0.3 13.2,1.6 L12.6,1 Q13.9,2.3 12.6,3.6 L4,12.2 L0.6,13.6 L2,10.2 Z M9.6,2.6 L11.6,4.6 M2,10.2 L4,12.2" fill="none" stroke="#fff" stroke-width="1.4" stroke-linejoin="round" transform="scale(1.0)"/></svg>
<div class="addg" style="left:1379.0px;top:956.6px;height:48.8px">Add</div>
<div class="card" style="left:1616.2px;top:495.2px;height:120.5px"><div class="hd">Donation Window</div></div>
<svg class="abs" style="left:1616.2px;top:495.2px;overflow:visible" width="211" height="20"><path d="M2.3,8.8 Q2.8,2.8 9.4,2.2" fill="none" stroke="#d2c8d6" stroke-width="0.9"/><path d="M208.7,8.8 Q208.2,2.8 201.6,2.2" fill="none" stroke="#d2c8d6" stroke-width="0.9"/></svg>
<div class="addp" style="left:1641.3px;top:549.4px">Add</div>
<div class="coll" style="left:1616.2px;top:742.1px;height:200.7px"><div class="hd"><span style="position:relative;left:9.5px">Collection</span></div><div class="ctime">19:00:00 - 22:00:00</div><div class="gh">Giving Hands</div>
<div class="wl">Waitlist</div></div>
<svg class="abs" style="left:1676.0px;top:751.2px;overflow:visible" width="18.0" height="18.0" viewBox="-2 -2 18 18"><path d="M10.6,1.6 Q11.9,0.3 13.2,1.6 L12.6,1 Q13.9,2.3 12.6,3.6 L4,12.2 L0.6,13.6 L2,10.2 Z M9.6,2.6 L11.6,4.6 M2,10.2 L4,12.2" fill="none" stroke="#fff" stroke-width="1.4" stroke-linejoin="round" transform="scale(1.0)"/></svg>
<div class="addg" style="left:1616.2px;top:956.6px;height:48.8px">Add</div>
<div class="card" style="left:1853.4px;top:495.2px;height:120.5px"><div class="hd">Donation Window</div></div>
<svg class="abs" style="left:1853.4px;top:495.2px;overflow:visible" width="211" height="20"><path d="M2.3,8.8 Q2.8,2.8 9.4,2.2" fill="none" stroke="#d2c8d6" stroke-width="0.9"/><path d="M208.7,8.8 Q208.2,2.8 201.6,2.2" fill="none" stroke="#d2c8d6" stroke-width="0.9"/></svg>
<div class="addp" style="left:1878.5px;top:549.4px">Add</div>
<div class="addg" style="left:1853.4px;top:746.7px;height:49.4px">Add</div>
<div class="abs" style="left:398px;top:1154px;width:1699px;height:70px;background:#fff;border-radius:9px"></div>
<svg class="abs" style="left:1070px;top:1170px" width="260" height="40" viewBox="1070 1170 260 40" fill="none" stroke="#8f96a6" stroke-width="1.7" stroke-linecap="round" stroke-linejoin="round"><path d="M1089.4,1184 L1084,1189.2 L1089.4,1194.4 M1095.8,1184 L1090.4,1189.2 L1095.8,1194.4"/><path d="M1145.6,1183.8 L1140.4,1189.2 L1145.6,1194.6"/><path d="M1245.2,1183.8 L1250.4,1189.2 L1245.2,1194.6"/><path d="M1294.8,1184 L1300.2,1189.2 L1294.8,1194.4 M1301.2,1184 L1306.6,1189.2 L1301.2,1194.4"/></svg>
<div class="abs" style="left:1169px;top:1163px;width:52px;height:52px;background:#eef2fd;color:#4a2ad8;font-size:18px;line-height:52px;text-align:center">1</div>
<div class="abs" style="left:1336px;top:1163px;width:86px;height:52px;background:#fff;border:1px solid #cfd5de;border-radius:9px"></div>
<div class="abs" style="left:1349.5px;top:1177.5px;font-size:17.5px;line-height:22px;color:#4b5563;white-space:nowrap">10</div>
<svg class="abs" style="left:1382px;top:1180px" width="24" height="18" viewBox="1382 1180 24 18"><path d="M1387.2,1185.4 L1394.4,1192.6 L1401.6,1185.4" fill="none" stroke="#4b5563" stroke-width="2.2" stroke-linecap="round" stroke-linejoin="round"/></svg>
<div class="abs" style="left:2137px;top:0;width:22px;height:1247px;background:#fafafa"></div>
<div class="abs" style="left:0;top:1226px;width:2159px;height:21px;background:#fafafa"></div>
<div class="abs" style="left:2142px;top:131px;width:13px;height:945px;background:#8a8a8a;border-radius:6.5px"></div>
<div class="abs" style="left:27px;top:1231px;width:2057px;height:13px;background:#8a8a8a;border-radius:6.5px"></div>
<svg class="abs" style="left:0;top:0" width="2159" height="1247" viewBox="0 0 2159 1247" fill="#8a8a8a" stroke="#8a8a8a" stroke-width="1.6" stroke-linejoin="round"><path d="M2148.6,-0.5 L2155,6.6 L2142.2,6.6 Z"/><path d="M2142.2,1209.6 L2155,1209.6 L2148.6,1219.6 Z"/><path d="M16.6,1231.4 L16.6,1243.4 L7,1237.4 Z"/><path d="M2120.6,1231.4 L2120.6,1243.4 L2130.6,1237.4 Z"/></svg>
</body></html>
